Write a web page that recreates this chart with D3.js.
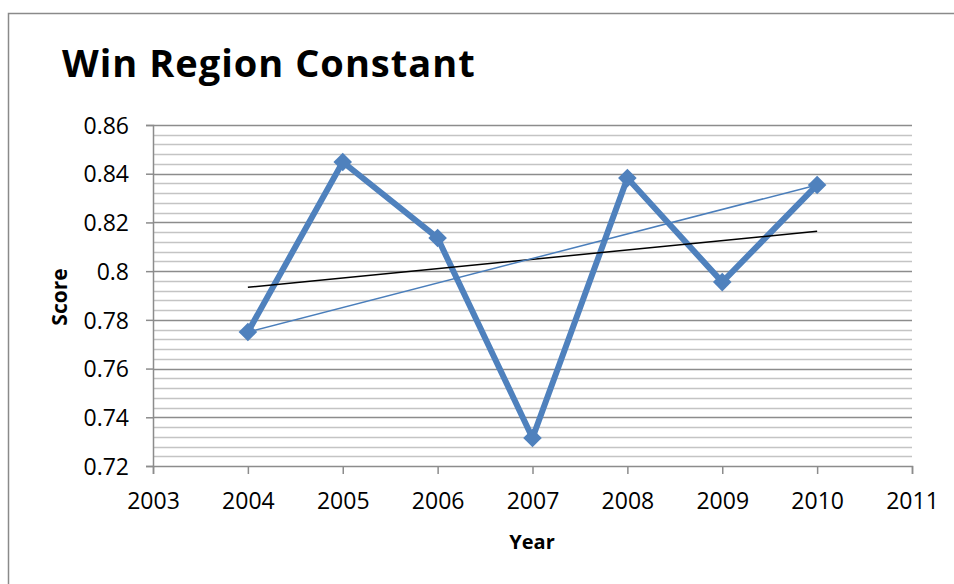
<!DOCTYPE html>
<html>
<head>
<meta charset="utf-8">
<script src="https://cdn.jsdelivr.net/npm/d3@7"></script>
<style>
  html, body { margin: 0; padding: 0; background: #fff; }
  svg { display: block; font-family: "Open Sans", Lato, sans-serif; }
</style>
</head>
<body>
<svg id="chart" width="954" height="584"></svg>
<script>
// ---- data ----
const years = [2004, 2005, 2006, 2007, 2008, 2009, 2010];
const scores = [0.775, 0.8448, 0.8136, 0.7315, 0.8382, 0.7955, 0.8354];
const xTicks = [2003, 2004, 2005, 2006, 2007, 2008, 2009, 2010, 2011];
const yTicks = [0.72, 0.74, 0.76, 0.78, 0.8, 0.82, 0.84, 0.86];
const yTickLabels = ['0.72', '0.74', '0.76', '0.78', '0.8', '0.82', '0.84', '0.86'];

(function () {
  'use strict';

  const svg = d3.select('#chart');
  const plot = { left: 153, right: 912, top: 125, bottom: 466 };
  const font = '"Open Sans", Lato, sans-serif';

  const x = d3.scaleLinear().domain([2003, 2011]).range([plot.left, plot.right]);
  const y = d3.scaleLinear().domain([0.72, 0.86]).range([plot.bottom, plot.top]);

  // outer chart border (runs off the right/bottom edge in the reference)
  svg.append('rect')
    .attr('x', 8.5).attr('y', 13.5)
    .attr('width', 990).attr('height', 620)
    .attr('fill', 'none').attr('stroke', '#8a8a8a').attr('stroke-width', 1.5);

  // title
  svg.append('text')
    .attr('x', 62).attr('y', 77)
    .attr('font-size', 38).attr('font-weight', 700)
    .attr('letter-spacing', 1)
    .attr('fill', '#000')
    .text('Win Region Constant');

  // minor gridlines every 0.004 (skip the majors)
  const minor = d3.range(0, 36).map(i => 0.72 + i * 0.004)
    .filter(v => Math.abs(((v - 0.72) / 0.02) - Math.round((v - 0.72) / 0.02)) > 1e-6);
  svg.append('g').selectAll('line').data(minor).join('line')
    .attr('x1', plot.left).attr('x2', plot.right)
    .attr('y1', d => Math.round(y(d)) + 0.5).attr('y2', d => Math.round(y(d)) + 0.5)
    .attr('stroke', '#c4c4c4').attr('stroke-width', 1.5);

  // major gridlines
  svg.append('g').selectAll('line').data(yTicks.slice(1)).join('line')
    .attr('x1', plot.left).attr('x2', plot.right)
    .attr('y1', d => Math.round(y(d)) + 0.5).attr('y2', d => Math.round(y(d)) + 0.5)
    .attr('stroke', '#8c8c8c').attr('stroke-width', 1.5);

  // y axis
  const yAxis = svg.append('g')
    .attr('transform', `translate(${plot.left},0)`)
    .call(d3.axisLeft(y).tickValues(yTicks).tickFormat((d, i) => yTickLabels[i]).tickSize(7).tickPadding(17));
  yAxis.select('.domain').attr('stroke', '#8c8c8c').attr('stroke-width', 1.5);
  yAxis.selectAll('.tick line').attr('stroke', '#8c8c8c').attr('stroke-width', 1.5);
  yAxis.selectAll('.tick text').attr('font-size', 23).attr('fill', '#000')
    .attr('font-family', font).attr('dy', '0.36em');

  // x axis
  const xAxis = svg.append('g')
    .attr('transform', `translate(0,${plot.bottom})`)
    .call(d3.axisBottom(x).tickValues(xTicks).tickFormat(d3.format('d')).tickSize(8).tickPadding(16));
  xAxis.select('.domain').attr('stroke', '#8c8c8c').attr('stroke-width', 1.5);
  xAxis.selectAll('.tick line').attr('stroke', '#8c8c8c').attr('stroke-width', 1.5);
  xAxis.selectAll('.tick text').attr('font-size', 23).attr('fill', '#000')
    .attr('font-family', font).attr('y', 43).attr('dy', null);

  // axis titles
  svg.append('text')
    .attr('x', 532).attr('y', 549)
    .attr('text-anchor', 'middle')
    .attr('font-size', 20).attr('font-weight', 700)
    .text('Year');
  svg.append('text')
    .attr('transform', `translate(67,297) rotate(-90)`)
    .attr('text-anchor', 'middle')
    .attr('font-size', 21).attr('font-weight', 700)
    .text('Score');

  const pts = years.map((yr, i) => ({ yr: yr, v: scores[i] }));

  // main series
  svg.append('path')
    .datum(pts)
    .attr('fill', 'none')
    .attr('stroke', '#4f81bd')
    .attr('stroke-width', 6)
    .attr('stroke-linejoin', 'miter')
    .attr('d', d3.line().x(d => x(d.yr)).y(d => y(d.v)));

  // linear trendline (least squares)
  const n = years.length;
  const mx = d3.mean(years), my = d3.mean(scores);
  const slope = d3.sum(years, (yr, i) => (yr - mx) * (scores[i] - my)) / d3.sum(years, yr => (yr - mx) * (yr - mx));
  const trend = [years[0], years[n - 1]].map(yr => ({ yr: yr, v: my + slope * (yr - mx) }));
  svg.append('path')
    .datum(trend)
    .attr('fill', 'none').attr('stroke', '#000').attr('stroke-width', 1.5)
    .attr('d', d3.line().x(d => x(d.yr)).y(d => y(d.v)));

  // thin line joining first and last point
  const ends = [pts[0], pts[n - 1]];
  svg.append('path')
    .datum(ends)
    .attr('fill', 'none').attr('stroke', '#4a7ebb').attr('stroke-width', 1.5)
    .attr('d', d3.line().x(d => x(d.yr)).y(d => y(d.v)));

  // diamond markers
  svg.append('g').selectAll('path').data(pts).join('path')
    .attr('transform', d => `translate(${x(d.yr)},${y(d.v)})`)
    .attr('d', d3.symbol().type(d3.symbolDiamond2).size(220))
    .attr('fill', '#4f81bd');
})();
</script>
</body>
</html>
